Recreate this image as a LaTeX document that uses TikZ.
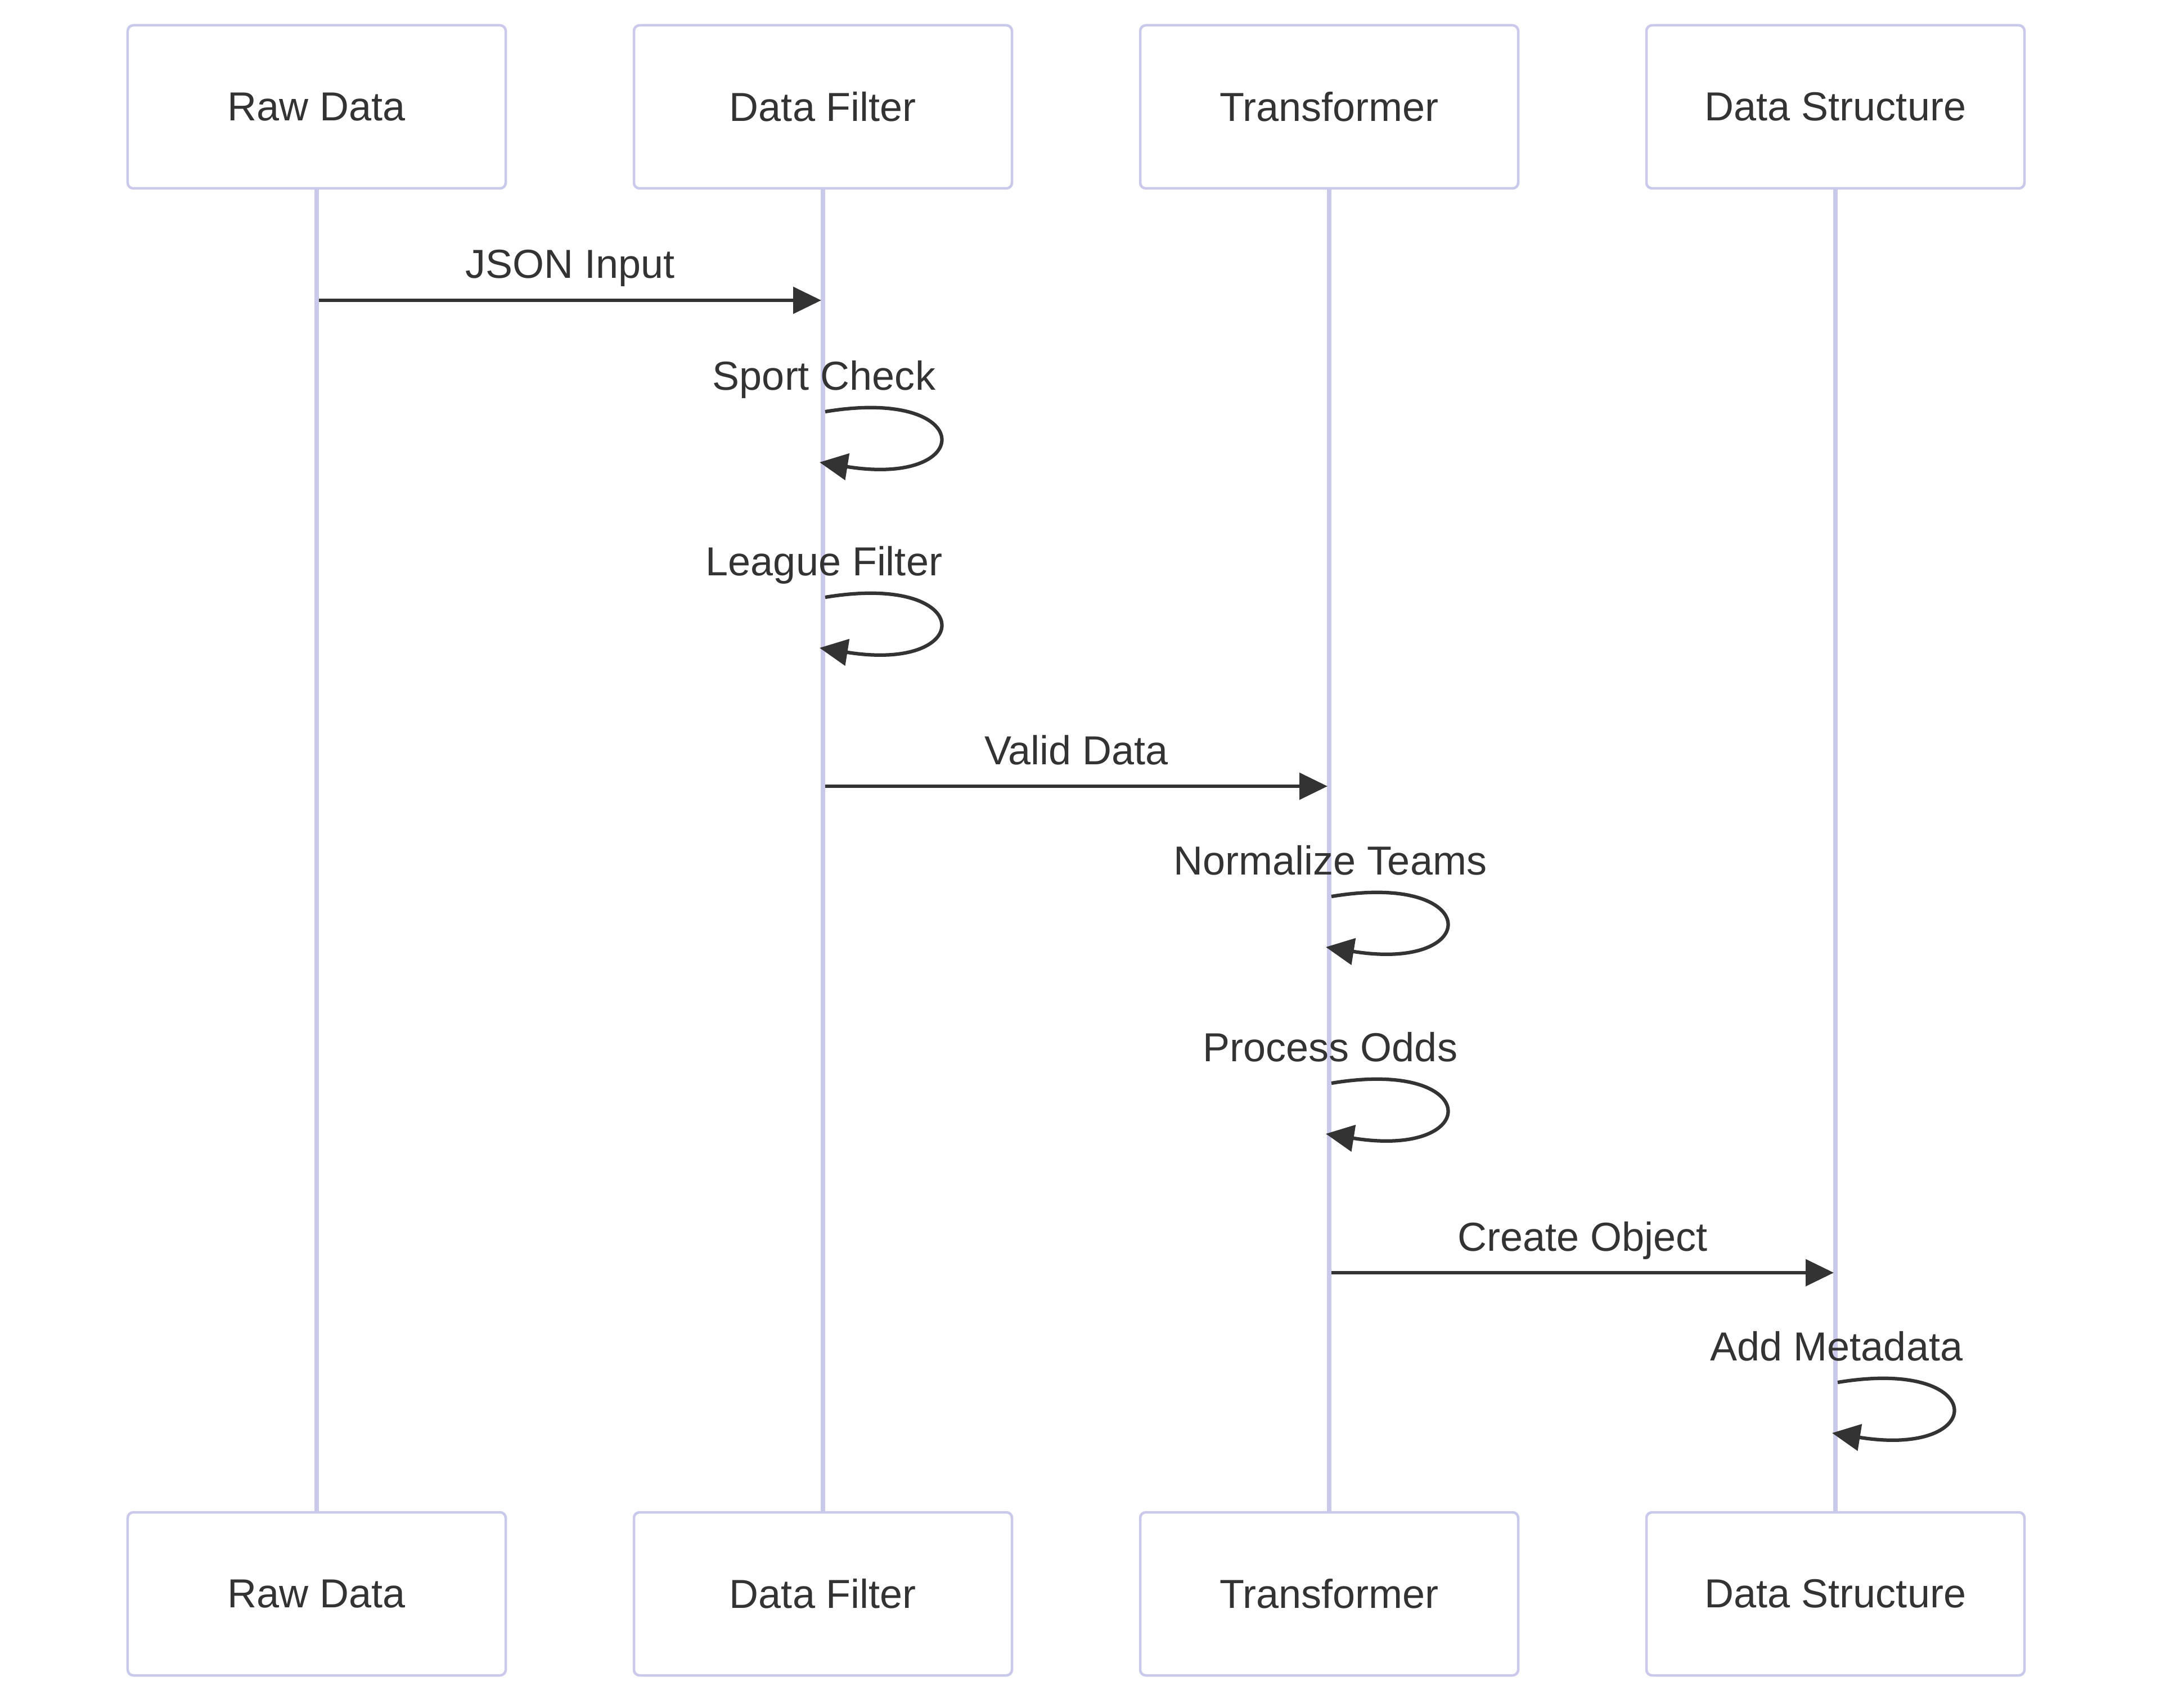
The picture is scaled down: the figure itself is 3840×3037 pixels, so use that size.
\documentclass[tikz,border=0pt]{standalone}
\usepackage{fontspec}
\setmainfont{Liberation Sans}
\usetikzlibrary{arrows.meta}
\definecolor{lane}{HTML}{C9C9EC}
\definecolor{ink}{HTML}{333333}

\begin{document}
\begin{tikzpicture}[x=0.4pt, y=0.4pt,
  actor/.style={draw=lane, line width=1.8pt, fill=white, rounded corners=4pt,
    minimum width=268.8pt, minimum height=116pt, inner sep=0pt,
    text=ink, font=\fontsize{28.8}{34}\selectfont},
  life/.style={draw=lane, line width=3.2pt},
  msg/.style={draw=ink, line width=2.5pt, -{Triangle[length=20pt, width=18.8pt]}},
  lbl/.style={text=ink, font=\fontsize{28.8}{34}\selectfont, anchor=base, inner sep=0pt}]
\useasboundingbox (0,0) rectangle (3840,-3037);

%% actors, top row
\node[actor] (raw) at (563,-190) {Raw Data};
\node[actor] (filter) at (1463,-190) {Data Filter};
\node[actor] (trans) at (2363,-190) {Transformer};
\node[actor] (struct) at (3263,-190) {Data Structure};
%% actors, bottom row
\node[actor] (rawB) at (563,-2834) {Raw Data};
\node[actor] (filterB) at (1463,-2834) {Data Filter};
\node[actor] (transB) at (2363,-2834) {Transformer};
\node[actor] (structB) at (3263,-2834) {Data Structure};

%% lifelines
\draw[life] (raw.south) -- (rawB.north);
\draw[life] (filter.south) -- (filterB.north);
\draw[life] (trans.south) -- (transB.north);
\draw[life] (struct.south) -- (structB.north);

%% JSON Input
\coordinate (jsonA) at (567,-534);
\coordinate (jsonB) at (1460,-534);
\draw[msg] (jsonA) -- node[lbl] (jsonL) [yshift=15.6pt] {JSON Input} (jsonB);

%% Sport Check
\coordinate (sportA) at (1467,-732);
\coordinate (sportB) at (1457,-822);
\node[lbl] (sportL) at (1465,-693) {Sport Check};
\draw[msg] (sportA) .. controls +(270,45) and +(280,-45) .. (sportB);

%% League Filter
\coordinate (leagueA) at (1467,-1062);
\coordinate (leagueB) at (1457,-1152);
\node[lbl] (leagueL) at (1465,-1023) {League Filter};
\draw[msg] (leagueA) .. controls +(270,45) and +(280,-45) .. (leagueB);

%% Valid Data
\coordinate (validA) at (1467,-1398);
\coordinate (validB) at (2360,-1398);
\draw[msg] (validA) -- node[lbl] (validL) [yshift=15.6pt] {Valid Data} (validB);

%% Normalize Teams
\coordinate (normA) at (2367,-1594);
\coordinate (normB) at (2357,-1684);
\node[lbl] (normL) at (2365,-1555) {Normalize Teams};
\draw[msg] (normA) .. controls +(270,45) and +(280,-45) .. (normB);

%% Process Odds
\coordinate (oddsA) at (2367,-1926);
\coordinate (oddsB) at (2357,-2016);
\node[lbl] (oddsL) at (2365,-1887) {Process Odds};
\draw[msg] (oddsA) .. controls +(270,45) and +(280,-45) .. (oddsB);

%% Create Object
\coordinate (createA) at (2367,-2263);
\coordinate (createB) at (3260,-2263);
\draw[msg] (createA) -- node[lbl] (createL) [yshift=15.6pt] {Create Object} (createB);

%% Add Metadata
\coordinate (metaA) at (3267,-2458);
\coordinate (metaB) at (3257,-2548);
\node[lbl] (metaL) at (3265,-2419) {Add Metadata};
\draw[msg] (metaA) .. controls +(270,45) and +(280,-45) .. (metaB);
\end{tikzpicture}
\end{document}
